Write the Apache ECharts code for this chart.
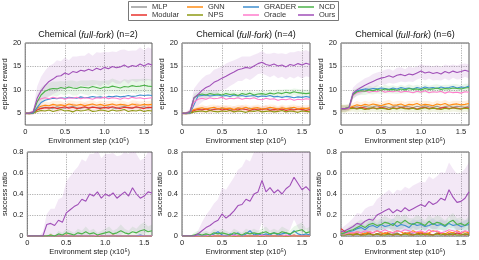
<!DOCTYPE html>
<html><head><meta charset="utf-8">
<script src="https://cdn.jsdelivr.net/npm/echarts@6/dist/echarts.min.js"></script>
<style>html,body{margin:0;padding:0;background:#fff}#c{width:479px;height:260px}</style>
</head><body><div id="c"></div>
<script>
// ---------- data ----------
const steps = [0,0.05,0.1,0.15,0.2,0.25,0.3,0.35,0.4,0.45,0.5,0.55,0.6,0.65,0.7,0.75,0.8,0.85,0.9,0.95,1.0,1.05,1.1,1.15,1.2,1.25,1.3,1.35,1.4,1.45,1.5,1.55,1.6];
const methods = ['MLP','Modular','GNN','NPS','GRADER','Oracle','NCD','Ours'];
const panelNs = ['n=2','n=4','n=6'];
const rewardTicks = [5,10,15,20];
const successTicks = [0,0.2,0.4,0.6,0.8];

// episode reward, n=2
const r2_mlp = [5.0,5.0,5.1,5.8,6.1,6.3,6.2,6.0,6.4,6.2,6.1,6.3,6.5,6.2,6.0,6.3,6.1,6.4,6.2,6.3,6.1,6.4,6.2,6.0,6.3,6.5,6.2,6.1,6.3,6.2,6.4,6.1,6.3];
const r2_modular = [5.0,5.0,5.1,5.7,6.0,6.2,6.1,6.3,6.0,6.2,6.4,6.1,6.3,6.0,6.2,6.4,6.1,6.3,6.2,6.0,6.3,6.1,6.4,6.2,6.0,6.3,6.2,6.1,6.4,6.2,6.0,6.3,6.2];
const r2_gnn = [5.0,5.0,5.2,6.1,6.5,6.7,6.6,6.9,6.7,6.8,6.6,7.0,6.8,6.7,6.9,6.6,6.8,7.0,6.7,6.9,6.6,6.8,7.0,6.7,6.9,6.8,6.6,7.0,6.8,6.7,6.9,6.8,6.9];
const r2_nps = [5.0,4.9,5.0,5.4,5.6,5.5,5.7,5.4,5.6,5.8,5.5,5.6,5.3,5.7,5.5,5.6,5.8,5.4,5.5,5.7,5.6,5.4,5.7,5.5,5.6,5.8,5.4,5.6,5.5,5.7,5.4,5.6,5.5];
const r2_grader = [5.0,5.0,5.0,6.2,7.3,7.8,8.0,8.2,8.1,8.3,8.2,8.4,8.3,8.2,8.5,8.3,8.4,8.6,8.4,8.5,8.3,8.6,8.5,8.7,8.5,8.6,8.8,8.6,8.7,8.9,8.8,8.9,8.8];
const r2_oracle = [5.0,5.0,5.3,7.6,8.1,8.3,8.1,8.4,8.2,8.3,8.0,8.3,8.2,8.4,8.1,8.3,8.2,8.0,8.3,8.2,8.4,8.1,8.3,8.2,8.0,8.3,8.1,8.4,8.2,8.3,8.1,8.2,8.3];
const r2_ncd = [5.0,5.0,5.2,7.4,8.9,9.7,10.1,10.3,10.2,10.5,10.3,10.6,10.4,10.3,10.6,10.5,10.4,10.7,10.5,10.3,10.6,10.5,10.8,10.6,10.4,10.7,10.6,10.9,10.7,10.8,11.0,10.8,10.7];
const r2_ours = [5.0,5.0,5.3,8.2,9.8,10.9,11.8,12.3,12.9,13.0,13.6,13.3,13.9,13.7,14.2,14.0,14.4,14.1,14.6,14.3,14.8,14.5,15.0,14.7,14.9,15.3,14.8,15.2,15.0,15.5,15.1,15.6,15.3];
const r2_ncd_sd = [0.3,0.3,0.4,1.5,1.6,1.5,1.4,1.5,1.6,1.4,1.5,1.4,1.6,1.5,1.4,1.5,1.6,1.4,1.5,1.6,1.4,1.5,1.6,1.5,1.4,1.6,1.5,1.4,1.6,1.5,1.4,1.5,1.5];
const r2_ours_sd = [0.3,0.3,0.5,2.5,3.0,3.2,3.3,3.2,3.4,3.1,3.3,3.0,3.2,3.4,3.1,3.3,3.5,3.2,3.4,3.6,3.3,3.5,3.2,3.4,3.6,3.3,3.5,3.2,3.4,3.6,3.3,3.5,3.4];
const r2_low_sd = [0.3,0.3,0.4,0.6,0.7,0.8,0.7,0.8,0.9,0.8,0.7,0.8,0.9,0.8,0.7,0.8,0.9,0.8,0.7,0.8,0.9,0.8,0.7,0.8,0.9,0.8,0.7,0.8,0.9,0.8,0.7,0.8,0.8];

// episode reward, n=4
const r4_mlp = [5.0,5.0,5.2,5.7,5.9,5.8,6.0,5.7,5.9,5.8,6.1,5.8,5.9,5.7,6.0,5.9,5.8,6.1,5.7,5.9,5.8,6.0,5.9,5.7,6.0,5.8,5.9,6.1,5.8,5.9,5.7,6.0,5.9];
const r4_modular = [5.0,5.0,5.1,5.6,5.8,5.7,5.9,5.6,5.8,6.0,5.7,5.9,5.6,5.8,5.7,6.0,5.8,5.6,5.9,5.7,5.8,6.0,5.6,5.8,5.7,5.9,5.6,5.8,5.7,5.9,5.8,5.6,5.8];
const r4_gnn = [5.0,5.0,5.3,5.8,6.0,6.2,5.9,6.1,6.3,5.9,6.2,6.0,6.1,5.8,6.2,6.0,6.3,5.9,6.1,6.2,5.9,6.0,6.3,6.1,5.9,6.2,6.0,6.1,6.3,5.9,6.1,6.0,6.2];
const r4_nps = [5.0,4.9,5.0,5.3,5.4,5.5,5.3,5.6,5.4,5.3,5.5,5.4,5.6,5.3,5.5,5.4,5.2,5.5,5.4,5.6,5.3,5.4,5.5,5.3,5.4,5.6,5.3,5.5,5.4,5.2,5.5,5.4,5.3];
const r4_grader = [5.0,5.0,5.0,6.8,8.7,8.8,8.9,8.7,8.8,8.9,8.7,8.8,8.6,8.9,8.7,8.8,8.6,8.7,8.8,8.5,8.7,8.6,8.8,8.5,8.6,8.4,8.6,8.5,8.3,8.5,8.4,8.6,8.4];
const r4_oracle = [5.0,5.0,5.2,7.4,8.0,8.2,8.0,8.3,8.1,8.2,8.4,8.0,8.2,8.1,8.3,8.0,8.2,8.1,8.3,8.0,7.9,8.2,8.0,8.1,7.8,8.0,7.9,8.1,7.8,8.0,7.9,8.1,8.0];
const r4_ncd = [5.0,5.0,5.2,8.3,8.9,9.1,8.9,9.2,9.0,9.1,8.9,9.2,9.0,9.1,8.8,9.2,9.0,9.3,8.9,9.1,9.2,9.0,9.3,9.1,9.4,9.2,9.5,9.3,9.6,9.4,9.3,9.2,9.3];
const r4_ours = [5.0,5.0,5.4,8.3,9.0,9.9,10.5,10.9,11.6,12.0,12.5,12.9,13.4,13.8,14.3,14.5,14.8,14.6,15.1,15.6,15.9,15.4,15.2,15.5,15.1,15.3,14.9,15.4,15.2,15.6,15.3,15.7,15.4];
const r4_ncd_sd = [0.3,0.3,0.4,0.8,0.7,0.6,0.7,0.6,0.7,0.6,0.7,0.6,0.7,0.6,0.7,0.6,0.7,0.6,0.7,0.6,0.7,0.6,0.7,0.8,0.7,0.8,0.7,0.8,0.7,0.8,0.7,0.8,0.7];
const r4_ours_sd = [0.3,0.3,0.6,2.0,2.4,2.5,2.6,2.5,2.7,2.6,2.5,2.7,2.6,2.5,2.4,2.6,2.3,2.5,2.4,2.2,2.4,2.3,2.5,2.4,2.6,2.5,2.7,2.6,2.8,2.7,2.9,2.8,2.7];
const r4_low_sd = [0.3,0.3,0.4,0.5,0.6,0.7,0.6,0.7,0.6,0.7,0.6,0.7,0.6,0.7,0.6,0.7,0.6,0.7,0.6,0.7,0.6,0.7,0.6,0.7,0.6,0.7,0.6,0.7,0.6,0.7,0.6,0.7,0.6];

// episode reward, n=6
const r6_mlp = [6.0,6.0,6.1,6.3,6.4,6.2,6.5,6.3,6.4,6.6,6.3,6.5,6.2,6.4,6.6,6.3,6.5,6.4,6.2,6.5,6.3,6.6,6.4,6.3,6.5,6.2,6.4,6.6,6.3,6.5,6.4,6.3,6.5];
const r6_modular = [6.0,6.0,6.1,6.2,6.0,6.3,6.1,5.9,6.2,6.0,6.3,6.1,5.8,6.2,6.0,6.3,6.1,6.0,6.2,5.9,6.1,6.3,6.0,6.2,5.9,6.1,6.3,6.0,6.2,6.1,5.9,6.2,6.1];
const r6_gnn = [6.0,6.0,6.2,6.5,6.8,6.6,6.9,6.7,7.0,6.8,6.6,6.9,7.1,6.7,6.8,7.0,6.6,6.9,6.8,7.1,6.7,6.9,6.8,6.6,7.0,6.8,7.1,6.7,6.9,7.0,6.8,6.9,7.1];
const r6_nps = [6.0,5.9,6.0,6.1,5.9,6.1,5.8,6.0,6.2,5.9,6.1,6.0,5.8,6.1,5.9,6.2,6.0,5.9,6.1,5.8,6.0,6.2,5.9,6.1,6.0,5.8,6.1,5.9,6.2,6.0,5.9,6.1,6.0];
const r6_grader = [6.0,6.0,6.1,9.1,9.8,10.0,10.2,10.1,10.3,10.2,10.4,10.3,10.1,10.4,10.2,10.5,10.3,10.4,10.2,10.5,10.3,10.6,10.4,10.5,10.3,10.6,10.4,10.5,10.7,10.4,10.6,10.5,10.8];
const r6_oracle = [6.0,6.0,6.0,8.8,9.4,9.6,9.8,9.5,9.7,9.6,9.9,9.5,9.7,9.6,9.8,9.5,9.7,9.6,9.4,9.7,9.5,9.8,9.4,9.6,9.5,9.7,9.3,9.6,9.4,9.5,9.3,9.6,9.5];
const r6_ncd = [6.0,6.0,6.3,9.0,9.6,9.8,9.7,10.0,9.8,10.1,9.9,10.2,10.0,10.1,9.9,10.2,10.0,10.3,10.1,10.2,10.0,10.3,10.1,10.2,10.4,10.1,10.3,10.2,10.4,10.3,10.2,10.4,10.5];
const r6_ours = [6.0,6.0,6.2,9.3,10.0,10.5,11.0,11.4,11.8,12.2,12.5,12.7,13.0,12.7,13.1,13.3,13.0,13.4,13.2,13.6,14.0,13.6,13.8,13.5,13.7,13.4,13.9,13.6,14.0,13.7,13.9,14.2,13.9];
const r6_ncd_sd = [0.8,0.8,0.7,0.9,0.8,0.9,0.8,0.9,0.8,0.9,0.8,0.9,0.8,0.9,0.8,0.9,0.8,0.9,0.8,0.9,0.8,0.9,0.8,0.9,0.8,0.9,0.8,0.9,0.8,0.9,0.8,0.9,0.8];
const r6_ours_sd = [0.6,0.6,0.6,1.2,1.3,1.4,1.5,1.4,1.6,1.5,1.4,1.6,1.5,1.4,1.6,1.5,1.4,1.6,1.5,1.4,1.5,1.6,1.4,1.5,1.6,1.4,1.5,1.6,1.4,1.5,1.6,1.4,1.5];
const r6_low_sd = [0.8,0.8,0.7,0.7,0.8,0.7,0.8,0.7,0.8,0.7,0.8,0.7,0.8,0.7,0.8,0.7,0.8,0.7,0.8,0.7,0.8,0.7,0.8,0.7,0.8,0.7,0.8,0.7,0.8,0.7,0.8,0.7,0.8];

// success ratio, n=2
const b2_mlp = [0,0,0,0,0,0,0,0,0,0,0,0,0,0,0,0,0,0,0,0,0,0,0,0,0,0,0,0,0,0,0,0,0];
const b2_modular = [0,0,0,0,0,0,0,0,0,0,0,0,0,0,0,0,0,0,0,0,0,0,0.01,0,0,0,0,0,0,0,0,0,0];
const b2_gnn = [0,0,0,0,0,0,0.01,0,0,0,0.01,0,0,0,0,0,0,0,0,0,0,0,0,0,0,0,0,0,0,0,0,0,0];
const b2_nps = [0,0,0,0,0,0,0,0,0,0,0,0,0,0,0,0,0,0,0,0,0,0,0,0,0,0,0,0,0,0,0,0,0];
const b2_grader = [0,0,0,0,0,0,0,0,0,0,0,0,0,0,0,0,0,0,0,0,0,0,0,0,0,0,0,0,0,0.01,0,0,0];
const b2_oracle = [0,0,0,0,0,0,0,0,0,0,0,0,0,0,0,0,0,0,0.01,0,0,0,0,0,0,0,0,0,0,0,0,0,0];
const b2_ncd = [0,0,0,0,0,0,0.01,0,0.02,0.01,0.03,0.02,0.01,0.03,0.02,0.04,0.02,0.03,0.01,0.02,0.03,0.04,0.02,0.03,0.05,0.03,0.02,0.04,0.03,0.05,0.06,0.04,0.05];
const b2_ours = [0,0,0,0,0,0.11,0.12,0.1,0.15,0.13,0.22,0.25,0.28,0.3,0.35,0.33,0.4,0.38,0.42,0.36,0.4,0.38,0.41,0.36,0.39,0.42,0.38,0.46,0.4,0.36,0.38,0.42,0.41];
const b2_ours_sd = [0,0,0,0,0.04,0.1,0.14,0.16,0.2,0.24,0.3,0.32,0.34,0.36,0.38,0.38,0.38,0.4,0.4,0.38,0.38,0.4,0.38,0.4,0.38,0.38,0.4,0.4,0.38,0.36,0.36,0.38,0.38];
const b2_ncd_sd = [0,0,0,0,0,0,0.02,0,0.03,0.02,0.04,0.03,0.02,0.04,0.03,0.05,0.03,0.04,0.02,0.03,0.04,0.05,0.03,0.04,0.06,0.04,0.03,0.05,0.04,0.06,0.07,0.05,0.06];

// success ratio, n=4
const b4_mlp = [0,0,0,0,0,0,0,0,0,0,0,0,0,0,0,0,0,0,0,0,0,0,0,0,0,0,0,0,0,0,0,0,0];
const b4_modular = [0,0,0,0,0,0,0,0,0,0,0,0,0.01,0,0,0,0,0,0,0,0,0,0,0,0,0,0,0,0.01,0,0,0,0];
const b4_gnn = [0,0,0,0,0,0,0,0,0,0,0,0,0,0,0,0,0,0,0,0,0,0.01,0,0,0,0,0,0,0,0,0,0,0];
const b4_nps = [0,0,0,0,0,0,0,0,0,0,0,0,0,0,0,0,0,0,0,0,0,0,0,0,0,0,0,0,0,0,0,0,0];
const b4_grader = [0,0,0,0,0.01,0,0.01,0,0.02,0.04,0.01,0,0.02,0.01,0.03,0,0.02,0.05,0.01,0.02,0.01,0.02,0.01,0.03,0.01,0.02,0.03,0.01,0.05,0.02,0.01,0.02,0.01];
const b4_oracle = [0,0,0,0,0,0,0,0.01,0,0,0,0,0,0.01,0,0,0,0,0,0,0.01,0,0,0,0,0,0.01,0,0,0,0,0,0];
const b4_ncd = [0,0,0,0.01,0.02,0.01,0.02,0.01,0.03,0.02,0.03,0.02,0.01,0.03,0.02,0.01,0.03,0.02,0.03,0.02,0.03,0.04,0.02,0.03,0.02,0.04,0.03,0.02,0.04,0.05,0.06,0.03,0.04];
const b4_ours = [0,0,0,0,0.02,0.05,0.08,0.1,0.13,0.15,0.21,0.17,0.2,0.24,0.29,0.3,0.35,0.33,0.4,0.42,0.53,0.42,0.46,0.41,0.44,0.4,0.45,0.48,0.56,0.5,0.44,0.47,0.43];
const b4_ours_sd = [0,0,0,0,0.03,0.08,0.12,0.15,0.18,0.2,0.25,0.27,0.3,0.32,0.34,0.36,0.38,0.38,0.4,0.4,0.4,0.4,0.42,0.4,0.42,0.4,0.42,0.42,0.4,0.42,0.42,0.4,0.42];
const b4_ncd_sd = [0,0,0,0.02,0.03,0.02,0.03,0.02,0.04,0.03,0.04,0.03,0.02,0.04,0.03,0.02,0.04,0.03,0.04,0.03,0.04,0.05,0.03,0.04,0.03,0.05,0.04,0.03,0.05,0.06,0.07,0.04,0.05];

// success ratio, n=6
const b6_mlp = [0.02,0.01,0.02,0.03,0.02,0.01,0.03,0.02,0.01,0.02,0.03,0.02,0.01,0.02,0.03,0.01,0.02,0.03,0.02,0.01,0.02,0.03,0.02,0.01,0.03,0.02,0.01,0.02,0.03,0.02,0.01,0.02,0.02];
const b6_modular = [0.07,0.04,0.02,0.01,0.02,0.01,0.02,0.03,0.01,0.02,0.01,0.03,0.02,0.01,0.02,0.01,0.03,0.02,0.01,0.02,0.03,0.01,0.02,0.01,0.02,0.03,0.01,0.02,0.01,0.03,0.02,0.01,0.02];
const b6_gnn = [0.03,0.02,0.03,0.02,0.04,0.03,0.02,0.04,0.03,0.05,0.03,0.02,0.04,0.03,0.05,0.04,0.02,0.03,0.05,0.03,0.04,0.02,0.03,0.05,0.04,0.03,0.02,0.04,0.03,0.05,0.03,0.04,0.03];
const b6_nps = [0.01,0.01,0.02,0.01,0.02,0.01,0.01,0.02,0.01,0.02,0.01,0.01,0.02,0.01,0.02,0.01,0.02,0.01,0.01,0.02,0.01,0.02,0.01,0.01,0.02,0.01,0.02,0.01,0.02,0.01,0.01,0.02,0.01];
const b6_grader = [0.02,0.03,0.04,0.05,0.07,0.08,0.06,0.09,0.1,0.08,0.11,0.09,0.1,0.12,0.09,0.11,0.1,0.08,0.12,0.1,0.11,0.09,0.1,0.12,0.1,0.11,0.09,0.12,0.1,0.11,0.09,0.1,0.11];
const b6_oracle = [0.02,0.02,0.03,0.03,0.04,0.03,0.05,0.04,0.03,0.05,0.04,0.06,0.04,0.03,0.05,0.04,0.06,0.05,0.03,0.04,0.05,0.03,0.06,0.04,0.05,0.03,0.04,0.06,0.05,0.04,0.03,0.05,0.04];
const b6_ncd = [0.02,0.03,0.05,0.06,0.08,0.1,0.08,0.11,0.12,0.1,0.11,0.13,0.12,0.1,0.14,0.12,0.15,0.12,0.11,0.13,0.12,0.1,0.14,0.11,0.13,0.12,0.1,0.13,0.15,0.11,0.12,0.1,0.13];
const b6_ours = [0.04,0.05,0.07,0.09,0.12,0.11,0.14,0.16,0.15,0.2,0.22,0.24,0.26,0.22,0.25,0.23,0.27,0.24,0.26,0.28,0.3,0.28,0.33,0.3,0.32,0.36,0.34,0.44,0.37,0.32,0.33,0.36,0.42];
const b6_ours_sd = [0.03,0.05,0.06,0.08,0.1,0.1,0.12,0.12,0.14,0.15,0.16,0.17,0.18,0.18,0.19,0.2,0.2,0.21,0.22,0.22,0.22,0.23,0.24,0.24,0.25,0.25,0.26,0.26,0.27,0.27,0.27,0.28,0.28];
const b6_ncd_sd = [0.02,0.03,0.04,0.05,0.05,0.06,0.05,0.06,0.06,0.05,0.06,0.06,0.05,0.06,0.07,0.06,0.06,0.05,0.06,0.07,0.06,0.05,0.06,0.06,0.07,0.06,0.05,0.06,0.07,0.06,0.06,0.05,0.06];
const b6_grader_sd = [0.02,0.02,0.03,0.04,0.04,0.05,0.04,0.05,0.05,0.04,0.05,0.05,0.04,0.05,0.05,0.04,0.05,0.05,0.04,0.05,0.05,0.04,0.05,0.05,0.04,0.05,0.05,0.04,0.05,0.05,0.04,0.05,0.05];

// ---------- styling ----------
const colors = {MLP:'#9a9a9a', Modular:'#e8322c', GNN:'#ff8c14', NPS:'#8e9a14', GRADER:'#3f8fcf', Oracle:'#ff7ccc', NCD:'#4db34a', Ours:'#a04fb8'};
const FONT = '"Liberation Sans", Arial, sans-serif';

const panels = [
  {mean:{MLP:r2_mlp,Modular:r2_modular,GNN:r2_gnn,NPS:r2_nps,GRADER:r2_grader,Oracle:r2_oracle,NCD:r2_ncd,Ours:r2_ours}, bands:[['GNN',r2_gnn,r2_low_sd],['Modular',r2_modular,r2_low_sd],['NCD',r2_ncd,r2_ncd_sd],['Ours',r2_ours,r2_ours_sd]], top:true},
  {mean:{MLP:r4_mlp,Modular:r4_modular,GNN:r4_gnn,NPS:r4_nps,GRADER:r4_grader,Oracle:r4_oracle,NCD:r4_ncd,Ours:r4_ours}, bands:[['GNN',r4_gnn,r4_low_sd],['Modular',r4_modular,r4_low_sd],['NCD',r4_ncd,r4_ncd_sd],['Ours',r4_ours,r4_ours_sd]], top:true},
  {mean:{MLP:r6_mlp,Modular:r6_modular,GNN:r6_gnn,NPS:r6_nps,GRADER:r6_grader,Oracle:r6_oracle,NCD:r6_ncd,Ours:r6_ours}, bands:[['GNN',r6_gnn,r6_low_sd],['NPS',r6_nps,r6_low_sd],['NCD',r6_ncd,r6_ncd_sd],['Ours',r6_ours,r6_ours_sd]], top:true},
  {mean:{MLP:b2_mlp,Modular:b2_modular,GNN:b2_gnn,NPS:b2_nps,GRADER:b2_grader,Oracle:b2_oracle,NCD:b2_ncd,Ours:b2_ours}, bands:[['NCD',b2_ncd,b2_ncd_sd],['Ours',b2_ours,b2_ours_sd]], top:false},
  {mean:{MLP:b4_mlp,Modular:b4_modular,GNN:b4_gnn,NPS:b4_nps,GRADER:b4_grader,Oracle:b4_oracle,NCD:b4_ncd,Ours:b4_ours}, bands:[['NCD',b4_ncd,b4_ncd_sd],['Ours',b4_ours,b4_ours_sd]], top:false},
  {mean:{MLP:b6_mlp,Modular:b6_modular,GNN:b6_gnn,NPS:b6_nps,GRADER:b6_grader,Oracle:b6_oracle,NCD:b6_ncd,Ours:b6_ours}, bands:[['GRADER',b6_grader,b6_grader_sd],['NCD',b6_ncd,b6_ncd_sd],['Ours',b6_ours,b6_ours_sd]], top:false}
];

const lefts = [24,182,341];
const grids = [], xAxes = [], yAxes = [], series = [];
panels.forEach((p, i) => {
  const col = i % 3;
  grids.push({left: lefts[col], width: 128, top: p.top ? 43 : 152, height: p.top ? 82 : 84,
    show: true, borderColor: '#333', borderWidth: 0.8, backgroundColor: '#fff'});
  xAxes.push({gridIndex: i, type: 'category', data: steps, boundaryGap: false,
    axisLine: {show: false}, axisTick: {show: false},
    axisLabel: {interval: 9, fontSize: 7.5, color: '#222', margin: 3, fontFamily: FONT,
      formatter: (v, idx) => idx === 0 ? '0' : Number(v).toFixed(1)},
    splitLine: {show: true, interval: 9, lineStyle: {type: [1.2, 1.2], color: '#9a9a9a', width: 0.8}},
    name: 'Environment step (x10\u2075)', nameLocation: 'middle', nameGap: 12,
    nameTextStyle: {fontSize: 7.5, color: '#222', fontFamily: FONT}});
  if (p.top) {
    yAxes.push({gridIndex: i, type: 'value', min: 2.5, max: 20, interval: 2.5,
      axisLine: {show: false}, axisTick: {show: false},
      axisLabel: {fontSize: 7.5, color: '#222', margin: 4, fontFamily: FONT,
        formatter: v => rewardTicks.indexOf(v) >= 0 ? String(v) : ''},
      splitLine: {show: true, lineStyle: {type: [1.2, 1.2], color: ['rgba(0,0,0,0)', '#9a9a9a'], width: 0.8}},
      name: 'episode reward', nameLocation: 'middle', nameGap: 13,
      nameTextStyle: {fontSize: 7.5, color: '#222', fontFamily: FONT}});
  } else {
    yAxes.push({gridIndex: i, type: 'value', min: 0, max: 0.8, interval: 0.2,
      axisLine: {show: false}, axisTick: {show: false},
      axisLabel: {fontSize: 7.5, color: '#222', margin: 4, fontFamily: FONT,
        formatter: v => successTicks.some(t => Math.abs(t - v) < 1e-9) ? (v === 0 ? '0' : v.toFixed(1)) : ''},
      splitLine: {show: true, lineStyle: {type: [1.2, 1.2], color: '#9a9a9a', width: 0.8}},
      name: 'success ratio', nameLocation: 'middle', nameGap: 15,
      nameTextStyle: {fontSize: 7.5, color: '#222', fontFamily: FONT}});
  }
  const floor = p.top ? 2.5 : 0;
  p.bands.forEach(([m, mean, sd], k) => {
    const lower = mean.map((v, j) => Math.max(floor, v - sd[j]));
    const diff = mean.map((v, j) => v + sd[j] - lower[j]);
    const st = 'band' + i + '_' + k;
    series.push({type: 'line', name: 'band', xAxisIndex: i, yAxisIndex: i, stack: st, data: lower,
      symbol: 'none', silent: true, lineStyle: {width: 0, opacity: 0}, z: 1});
    series.push({type: 'line', name: 'band', xAxisIndex: i, yAxisIndex: i, stack: st, data: diff,
      symbol: 'none', silent: true, lineStyle: {width: 0, opacity: 0},
      areaStyle: {color: colors[m], opacity: m === 'Ours' ? 0.13 : 0.12}, z: 1});
  });
  methods.forEach(m => {
    series.push({type: 'line', name: m, xAxisIndex: i, yAxisIndex: i, data: p.mean[m],
      symbol: 'none', silent: true, color: colors[m], lineStyle: {width: 1.1, color: colors[m]}, z: 3});
  });
});

const legendCols = [['MLP','Modular'],['GNN','NPS'],['GRADER','Oracle'],['NCD','Ours']];
const legendLefts = [131, 187, 243, 298];
const legends = legendCols.map((d, i) => ({
  data: d, orient: 'vertical', left: legendLefts[i], top: 3, itemGap: 0,
  icon: 'rect', itemWidth: 16, itemHeight: 1.5, padding: 0, selectedMode: false,
  textStyle: {fontSize: 7.5, color: '#333', fontFamily: FONT, lineHeight: 8, padding: [0,0,0,0]}
}));

const titleCenters = lefts.map(l => l + 64);
const graphics = [
  {type: 'rect', shape: {x: 128.5, y: 1.5, width: 210, height: 19}, style: {fill: '#fff', stroke: '#555', lineWidth: 0.8}, z: -1}
].concat(panelNs.map((n, i) => ({
  type: 'text', x: titleCenters[i], y: 35,
  style: {text: '{a|Chemical (}{i|full-fork}{a|) (' + n + ')}',
    rich: {a: {fontSize: 9, fill: '#111', fontFamily: FONT}, i: {fontSize: 9, fill: '#111', fontStyle: 'italic', fontFamily: FONT}},
    align: 'center', verticalAlign: 'middle'}
})));

const chart = echarts.init(document.getElementById('c'), null, {renderer: 'canvas'});
chart.setOption({
  animation: false,
  textStyle: {fontFamily: FONT},
  grid: grids, xAxis: xAxes, yAxis: yAxes, series: series,
  legend: legends, graphic: graphics
});
</script>
</body></html>
